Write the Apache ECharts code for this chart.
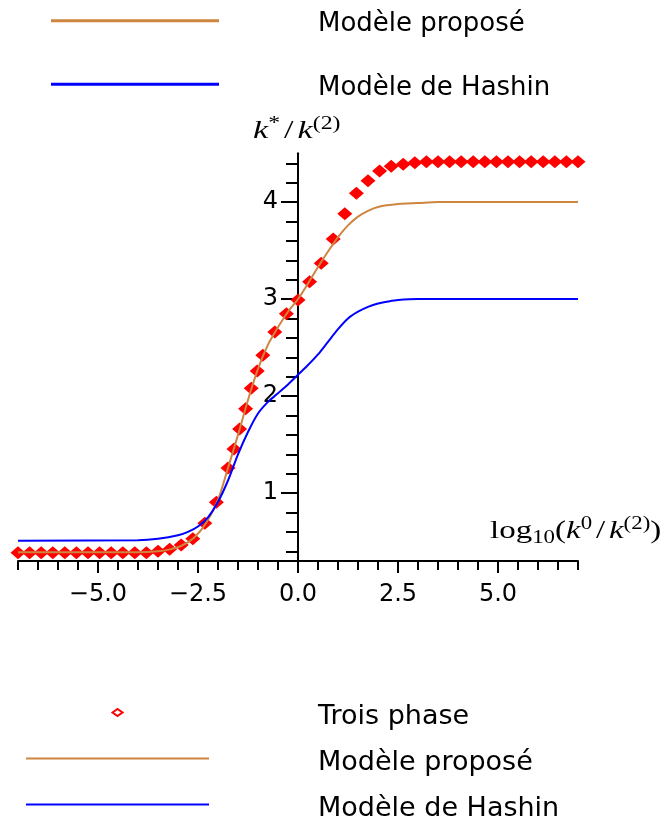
<!DOCTYPE html>
<html>
<head>
    <meta charset="utf-8">
    <title>k*/k(2)</title>
    <script src="https://cdn.jsdelivr.net/npm/echarts@6/dist/echarts.min.js"></script>
</head>
<body style="margin:0">
    <div id="main" style="width:667px;height:820px;"></div>
    <script type="text/javascript">
        // Trois phase (points rouges)
        var trioX = [-7.00, -6.71, -6.42, -6.13, -5.83, -5.54, -5.25, -4.96, -4.67, -4.38, -4.08, -3.79,
                     -3.50, -3.21, -2.92, -2.63, -2.33, -2.04,
                     -1.75, -1.60, -1.46, -1.31, -1.17, -1.02, -0.88,
                     -0.58, -0.29, 0.00, 0.29, 0.58, 0.88, 1.17, 1.46, 1.75, 2.04, 2.33, 2.63, 2.92,
                     3.21, 3.50, 3.79, 4.08, 4.38, 4.67, 4.96, 5.25, 5.54, 5.83, 6.13, 6.42, 6.71, 7.00];
        var trioY = [0.385, 0.385, 0.385, 0.385, 0.385, 0.385, 0.385, 0.385, 0.385, 0.385, 0.385, 0.385,
                     0.40, 0.42, 0.465, 0.53, 0.69, 0.905,
                     1.26, 1.455, 1.66, 1.87, 2.08, 2.26, 2.42,
                     2.66, 2.85, 2.99, 3.18, 3.37, 3.62, 3.88, 4.09, 4.22, 4.32, 4.37, 4.39, 4.405,
                     4.415, 4.415, 4.415, 4.415, 4.415, 4.415, 4.415, 4.415, 4.415, 4.415, 4.415, 4.415, 4.415, 4.415];

        // Modèle proposé
        var propX = [-7, -4, -3.5, -3.2, -2.9, -2.6, -2.3, -2.0, -1.75, -1.5, -1.25, -1.0, -0.75, -0.5, -0.25,
                     0, 0.25, 0.5, 0.75, 1.0, 1.25, 1.5, 1.75, 2.0, 2.5, 3.0, 3.5, 7];
        var propY = [0.39, 0.39, 0.40, 0.42, 0.46, 0.54, 0.69, 0.93, 1.26, 1.60, 1.96, 2.28, 2.53, 2.71, 2.87,
                     3.00, 3.16, 3.33, 3.49, 3.64, 3.76, 3.85, 3.91, 3.95, 3.98, 3.99, 4.00, 4.00];

        // Modèle de Hashin
        var hashX = [-7, -4, -3.5, -3, -2.75, -2.5, -2.25, -2, -1.75, -1.5, -1.25, -1, -0.75, -0.5, -0.25,
                     0, 0.25, 0.5, 0.75, 1, 1.25, 1.5, 1.75, 2, 2.25, 2.5, 3, 7];
        var hashY = [0.51, 0.515, 0.53, 0.565, 0.60, 0.655, 0.75, 0.91, 1.13, 1.40, 1.63, 1.82, 1.94, 2.03, 2.12,
                     2.22, 2.32, 2.43, 2.56, 2.69, 2.80, 2.87, 2.92, 2.955, 2.975, 2.99, 3.0, 3.0];

        // graduations
        var xMajorTicks = [-5, -2.5, 0, 2.5, 5];
        var yMajorTicks = [1, 2, 3, 4];
        var yMinorTicks = [0.4, 0.6, 0.8, 1.0, 1.2, 1.4, 1.6, 1.8, 2.0, 2.2, 2.4, 2.6, 2.8, 3.0,
                           3.2, 3.4, 3.6, 3.8, 4.0, 4.2, 4.4];

        function pairs(xs, ys) {
            return xs.map(function (x, i) { return [x, ys[i]]; });
        }

        var sans = 'DejaVu Sans';
        var serif = 'Liberation Serif';
        var axisColor = '#000';
        var orange = '#cd853f';
        var blue = '#0000ff';

        // icônes de légende : trait un peu au-dessus du milieu du texte (points invisibles pour la boîte)
        var topLine = 'path://M0,1.5H168V4.5H0Z M0,0L0,0 M168,14L168,14';
        var botLine = 'path://M0,3H183V5H0Z M0,0L0,0 M183,16L183,16';
        var botDiamond = 'path://M86.5,4L91.5,0.5L96.5,4L91.5,7.5Z M0,0L0,0 M183,16L183,16';

        var mathRich = {
            r: { fontFamily: serif, fontSize: 26, lineHeight: 32, color: '#222' },
            i: { fontFamily: serif, fontStyle: 'italic', fontSize: 26, lineHeight: 32, color: '#222' },
            sl: { fontFamily: serif, fontSize: 26, lineHeight: 32, color: '#222', padding: [0, 3, 0, 3] },
            sup: { fontFamily: serif, fontSize: 18, lineHeight: 18, verticalAlign: 'top', color: '#222' },
            sub: { fontFamily: serif, fontSize: 18, lineHeight: 18, verticalAlign: 'bottom', color: '#222' }
        };

        var myChart = echarts.init(document.getElementById('main'));
        var option = {
            animation: false,
            grid: { left: 18, right: 89, top: 153.6, bottom: 259, containLabel: false, outerBoundsMode: 'none' },
            legend: [{
                orient: 'vertical', left: 51, top: 9.7, padding: 0, height: 120,
                itemWidth: 168, itemHeight: 14, itemGap: 33.6,
                symbolKeepAspect: false,
                selectedMode: false,
                data: [
                    { name: 'Modèle proposé', icon: topLine, itemStyle: { color: orange, borderWidth: 0 } },
                    { name: 'Modèle de Hashin', icon: topLine, itemStyle: { color: blue, borderWidth: 0 } }
                ],
                textStyle: { fontFamily: sans, fontSize: 26, color: '#000', lineHeight: 30, padding: [0, 0, 0, 94] }
            }, {
                orient: 'vertical', left: 25, top: 703, padding: 0, height: 130,
                itemWidth: 183, itemHeight: 16, itemGap: 19,
                symbolKeepAspect: false,
                selectedMode: false,
                data: [
                    { name: 'Trois phase', icon: botDiamond,
                      itemStyle: { color: '#fff', borderColor: '#ff0000', borderWidth: 2 } },
                    { name: 'Modèle proposé', icon: botLine, itemStyle: { color: orange, borderWidth: 0 } },
                    { name: 'Modèle de Hashin', icon: botLine, itemStyle: { color: blue, borderWidth: 0 } }
                ],
                textStyle: { fontFamily: sans, fontSize: 27, color: '#000', lineHeight: 24, padding: [0, 0, 0, 104] }
            }],
            xAxis: [{
                type: 'value', min: -7, max: 7, interval: 0.5, position: 'bottom',
                axisLine: { onZero: false, lineStyle: { color: axisColor, width: 2 } },
                axisTick: { length: 9, lineStyle: { color: axisColor, width: 2 } },
                axisLabel: { show: false },
                splitLine: { show: false }
            }, {
                type: 'value', min: -7, max: 7, position: 'bottom',
                axisLine: { show: false, onZero: false },
                axisTick: { customValues: xMajorTicks, length: 12, lineStyle: { color: axisColor, width: 2 } },
                axisLabel: {
                    customValues: xMajorTicks, margin: 22,
                    fontFamily: sans, fontSize: 24, color: '#000',
                    formatter: function (v) { return v.toFixed(1).replace('-', '\u2212'); }
                },
                splitLine: { show: false }
            }],
            yAxis: [{
                // axe vertical en x = 0, petites graduations
                type: 'value', min: 0.3, max: 4.5, position: 'left',
                axisLine: { onZero: true, lineStyle: { color: axisColor, width: 2 } },
                axisTick: { customValues: yMinorTicks, length: 12, lineStyle: { color: axisColor, width: 2 } },
                axisLabel: { show: false },
                splitLine: { show: false }
            }, {
                // grandes graduations
                type: 'value', min: 0.3, max: 4.5, position: 'left',
                axisLine: { onZero: true, lineStyle: { color: axisColor, width: 2 } },
                axisTick: { customValues: yMajorTicks, length: 17, lineStyle: { color: axisColor, width: 2 } },
                axisLabel: { show: false },
                splitLine: { show: false }
            }, {
                // étiquettes, ramenées contre l'axe x = 0
                type: 'value', min: 0.3, max: 4.5, position: 'left',
                axisLine: { show: false, onZero: false },
                axisTick: { show: false },
                axisLabel: { customValues: yMajorTicks, margin: -260, fontFamily: sans, fontSize: 24, color: '#000' },
                splitLine: { show: false }
            }],
            graphic: [{
                type: 'text', x: 253, y: 115, scaleX: 1.32,
                style: { text: '{i|k}{sup|*}{sl|/}{i|k}{sup|(2)}', rich: mathRich }
            }, {
                type: 'text', x: 490, y: 515, scaleX: 1.27,
                style: { text: '{r|log}{sub|10}{r|(}{i|k}{sup|0}{sl|/}{i|k}{sup|(2)}{r|)}', rich: mathRich }
            }],
            series: [{
                name: 'Trois phase', type: 'scatter',
                xAxisIndex: 0, yAxisIndex: 0,
                symbol: 'diamond', symbolSize: [15, 13],
                itemStyle: { color: '#ff0000', opacity: 1 },
                data: pairs(trioX, trioY)
            }, {
                name: 'Modèle proposé', type: 'line',
                xAxisIndex: 0, yAxisIndex: 0,
                symbol: 'none', smooth: 0.3,
                lineStyle: { color: orange, width: 2 },
                itemStyle: { color: orange },
                data: pairs(propX, propY)
            }, {
                name: 'Modèle de Hashin', type: 'line',
                xAxisIndex: 0, yAxisIndex: 0,
                symbol: 'none', smooth: 0.3,
                lineStyle: { color: blue, width: 2 },
                itemStyle: { color: blue },
                data: pairs(hashX, hashY)
            }]
        };
        myChart.setOption(option);
    </script>
</body>
</html>
